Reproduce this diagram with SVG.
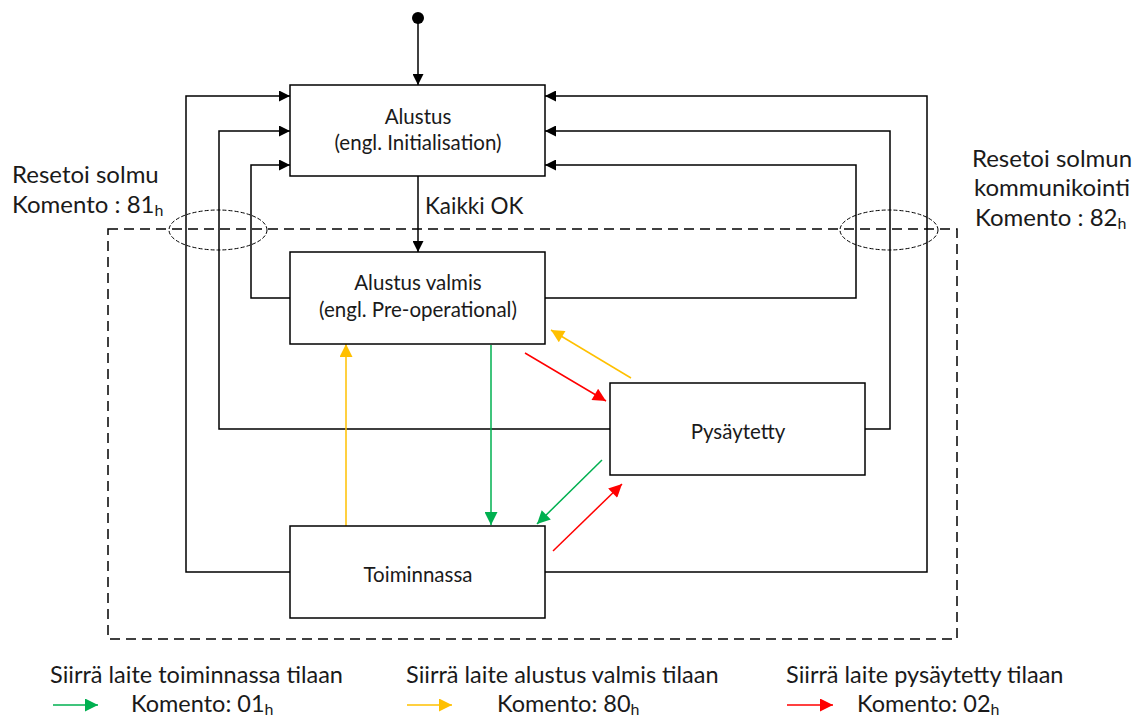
<svg xmlns="http://www.w3.org/2000/svg" width="1145" height="718" viewBox="0 0 1145 718">
  <style>
    .box { fill: #fff; stroke: #000; stroke-width: 1.5; }
    .ln { fill: none; stroke: #000; stroke-width: 1.5; }
    .g { fill: none; stroke: #00B050; stroke-width: 1.5; }
    .y { fill: none; stroke: #FFC000; stroke-width: 1.5; }
    .r { fill: none; stroke: #FF0000; stroke-width: 1.5; }
    .zone { fill: none; stroke: #000; stroke-width: 1.5; stroke-dasharray: 10 6; }
    .ring { fill: none; stroke: #000; stroke-width: 1; stroke-dasharray: 4 2; }
    text { font-family: Lato, "Open Sans", "Liberation Sans", sans-serif; fill: #1a1a1a; }
    .node { font-size: 20.5px; text-anchor: middle; }
    .lbl { font-size: 24px; }
    .leg { font-size: 23.5px; }
    .ok { font-size: 22.5px; }
    .sub { font-size: 16px; }
  </style>
  <defs>
    <marker id="ah" viewBox="0 0 10 10" refX="10" refY="5" markerWidth="12" markerHeight="11" markerUnits="userSpaceOnUse" orient="auto">
      <path d="M0,0 L10,5 L0,10 Z" fill="#000"/>
    </marker>
    <marker id="ahG" viewBox="0 0 10 10" refX="10" refY="5" markerWidth="14" markerHeight="13" markerUnits="userSpaceOnUse" orient="auto">
      <path d="M0,0 L10,5 L0,10 Z" fill="#00B050"/>
    </marker>
    <marker id="ahY" viewBox="0 0 10 10" refX="10" refY="5" markerWidth="14" markerHeight="13" markerUnits="userSpaceOnUse" orient="auto">
      <path d="M0,0 L10,5 L0,10 Z" fill="#FFC000"/>
    </marker>
    <marker id="ahR" viewBox="0 0 10 10" refX="10" refY="5" markerWidth="14" markerHeight="13" markerUnits="userSpaceOnUse" orient="auto">
      <path d="M0,0 L10,5 L0,10 Z" fill="#FF0000"/>
    </marker>
  </defs>

  <!-- communication zone and reset crossings -->
  <rect class="zone" x="108" y="229" width="849" height="410"/>
  <ellipse class="ring" cx="218" cy="230" rx="49" ry="20"/>
  <ellipse class="ring" cx="889" cy="230" rx="49" ry="20"/>

  <g id="connectors">
    <!-- power-on -->
    <circle cx="418" cy="18" r="6" fill="#000"/>
    <line class="ln" x1="418" y1="18" x2="418" y2="85" marker-end="url(#ah)"/>
    <!-- Kaikki OK -->
    <line class="ln" x1="418" y1="176" x2="418" y2="252" marker-end="url(#ah)"/>
    <!-- reset node (left) -->
    <polyline class="ln" points="290,572 186,572 186,96 290,96" marker-end="url(#ah)"/>
    <polyline class="ln" points="610,429 219,429 219,131 290,131" marker-end="url(#ah)"/>
    <polyline class="ln" points="290,298 251,298 251,165 290,165" marker-end="url(#ah)"/>
    <!-- reset communication (right) -->
    <polyline class="ln" points="545,572 927,572 927,96 545,96" marker-end="url(#ah)"/>
    <polyline class="ln" points="865,429 890,429 890,131 545,131" marker-end="url(#ah)"/>
    <polyline class="ln" points="545,298 856,298 856,165 545,165" marker-end="url(#ah)"/>
    <!-- state transitions -->
    <line class="g" x1="491" y1="345" x2="491" y2="525" marker-end="url(#ahG)"/>
    <line class="g" x1="602" y1="460" x2="537" y2="524" marker-end="url(#ahG)"/>
    <line class="y" x1="346" y1="526" x2="346" y2="344" marker-end="url(#ahY)"/>
    <line class="y" x1="631" y1="378" x2="551" y2="330" marker-end="url(#ahY)"/>
    <line class="r" x1="525" y1="353" x2="606" y2="401" marker-end="url(#ahR)"/>
    <line class="r" x1="553" y1="551" x2="622" y2="484" marker-end="url(#ahR)"/>
  </g>

  <g id="alustus">
    <rect class="box" x="290" y="85" width="255" height="91"/>
    <text class="node" x="418" y="124">Alustus</text>
    <text class="node" x="418" y="150">(engl. Initialisation)</text>
  </g>
  <g id="alustus-valmis">
    <rect class="box" x="290" y="252" width="255" height="92"/>
    <text class="node" x="418" y="290">Alustus valmis</text>
    <text class="node" x="418" y="317">(engl. Pre-operational)</text>
  </g>
  <g id="pysaytetty">
    <rect class="box" x="610" y="383" width="255" height="92"/>
    <text class="node" x="738" y="439">Pysäytetty</text>
  </g>
  <g id="toiminnassa">
    <rect class="box" x="290" y="526" width="255" height="92"/>
    <text class="node" x="418" y="582">Toiminnassa</text>
  </g>

  <!-- labels -->
  <text class="ok" x="425" y="214">Kaikki OK</text>
  <text class="lbl" x="12" y="183">Resetoi solmu</text>
  <text class="lbl" x="12" y="213">Komento : 81<tspan class="sub" dy="3">h</tspan></text>
  <text class="lbl" x="1052" y="167" text-anchor="middle">Resetoi solmun</text>
  <text class="lbl" x="1052" y="196" text-anchor="middle">kommunikointi</text>
  <text class="lbl" x="975" y="226">Komento : 82<tspan class="sub" dy="3">h</tspan></text>

  <!-- legend -->
  <g id="legend">
    <text class="leg" x="50" y="683">Siirrä laite toiminnassa tilaan</text>
    <line class="g" x1="53" y1="705" x2="98" y2="705" marker-end="url(#ahG)"/>
    <text class="leg" x="131" y="712">Komento: 01<tspan class="sub" dy="3">h</tspan></text>
    <text class="leg" x="406" y="683">Siirrä laite alustus valmis tilaan</text>
    <line class="y" x1="407" y1="705" x2="452" y2="705" marker-end="url(#ahY)"/>
    <text class="leg" x="497" y="712">Komento: 80<tspan class="sub" dy="3">h</tspan></text>
    <text class="leg" x="786" y="683">Siirrä laite pysäytetty tilaan</text>
    <line class="r" x1="787" y1="705" x2="833" y2="705" marker-end="url(#ahR)"/>
    <text class="leg" x="857" y="712">Komento: 02<tspan class="sub" dy="3">h</tspan></text>
  </g>
</svg>
